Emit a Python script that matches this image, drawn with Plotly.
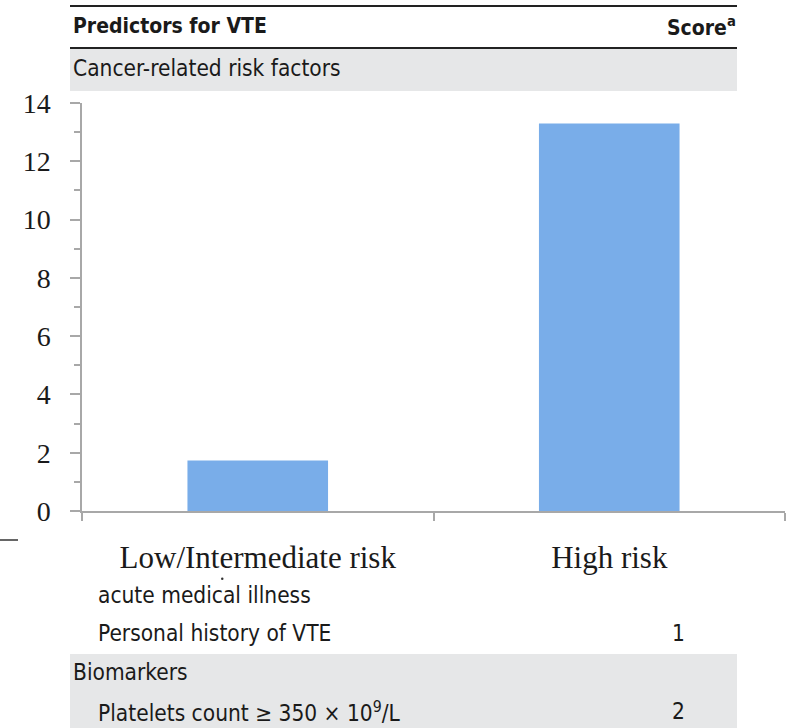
import plotly.graph_objects as go

W, H = 788, 728

categories = ["Low/Intermediate risk", "High risk"]
values = [1.73, 13.3]
y_ticks = [0, 2, 4, 6, 8, 10, 12, 14]

header_left = "Predictors for VTE"
header_right = "Score<sup>a</sup>"
# (label, score, left x, centre y)
table_rows = [
    ("Cancer-related risk factors", "", 71, 68),
    ("acute medical illness", "", 96, 595),
    ("Personal history of VTE", "1", 96, 633),
    ("Biomarkers", "", 71, 672),
    ("Platelets count \u2265 350 \u00d7 10<sup>9</sup>/L", "2", 96, 711),
]


def px(x):
    return x / W


def py(y):
    return 1 - y / H


fig = go.Figure()
fig.add_trace(go.Bar(
    x=categories, y=values,
    marker=dict(color="#79ade9", line=dict(width=0)),
    hoverinfo="x+y",
))

shapes = []
# grey bands
shapes.append(dict(type="rect", xref="paper", yref="paper", x0=px(70), x1=px(737),
                   y0=py(91), y1=py(48), fillcolor="#e6e7e8", line=dict(width=0), layer="below"))
shapes.append(dict(type="rect", xref="paper", yref="paper", x0=px(70), x1=px(737),
                   y0=py(728), y1=py(654), fillcolor="#e6e7e8", line=dict(width=0), layer="below"))
# rules
shapes.append(dict(type="line", xref="paper", yref="paper", x0=px(70), x1=px(737),
                   y0=py(6), y1=py(6), line=dict(color="#222222", width=2)))
shapes.append(dict(type="line", xref="paper", yref="paper", x0=px(70), x1=px(737),
                   y0=py(48), y1=py(48), line=dict(color="#222222", width=2)))
# stray dash at left and stray dot
shapes.append(dict(type="line", xref="paper", yref="paper", x0=px(0), x1=px(18),
                   y0=py(540), y1=py(540), line=dict(color="#333333", width=1.5)))
shapes.append(dict(type="circle", xref="paper", yref="paper", x0=px(221), x1=px(223.5),
                   y0=py(580), y1=py(577.5), fillcolor="#333333", line=dict(width=0)))

annotations = []
font_tbl = "Liberation Sans Narrow, DejaVu Sans Condensed, sans-serif"
TS = 22.5
TSB = 21
annotations.append(dict(text="<b>" + header_left + "</b>", x=px(71), y=py(26), xref="paper", yref="paper",
                        xanchor="left", yanchor="middle", showarrow=False,
                        font=dict(family=font_tbl, size=TSB, color="#1a1a1a")))
annotations.append(dict(text="<b>" + header_right + "</b>", x=px(738), y=py(26), xref="paper", yref="paper",
                        xanchor="right", yanchor="middle", showarrow=False,
                        font=dict(family=font_tbl, size=TSB, color="#1a1a1a")))
for label, score, xl, yc in table_rows:
    annotations.append(dict(text=label, x=px(xl), y=py(yc), xref="paper", yref="paper",
                            xanchor="left", yanchor="middle", showarrow=False,
                            font=dict(family=font_tbl, size=TS, color="#1a1a1a")))
    if score:
        annotations.append(dict(text=score, x=px(678), y=py(yc), xref="paper", yref="paper",
                                xanchor="center", yanchor="middle", showarrow=False,
                                font=dict(family=font_tbl, size=TS, color="#1a1a1a")))

fig.update_layout(
    width=W, height=H,
    margin=dict(l=0, r=0, t=0, b=0, pad=0, autoexpand=False),
    paper_bgcolor="white", plot_bgcolor="white",
    showlegend=False,
    bargap=0.6,
    shapes=shapes,
    annotations=annotations,
    xaxis=dict(
        domain=[px(82), px(785)],
        type="category",
        automargin=False,
        showline=True, linecolor="#a8a8a8", linewidth=1.5,
        ticks="outside", tickson="boundaries", ticklen=8, tickcolor="#a8a8a8", tickwidth=1.5,
        tickfont=dict(family="Liberation Serif, Times New Roman, serif", size=31, color="#1a1a1a"),
        ticklabelstandoff=18,
        showgrid=False, zeroline=False,
    ),
    yaxis=dict(
        domain=[py(511), py(103)],
        range=[0, 14],
        tickvals=y_ticks,
        automargin=False,
        showline=True, linecolor="#a8a8a8", linewidth=1.5,
        ticks="outside", ticklen=10, tickcolor="#a8a8a8", tickwidth=1.5,
        minor=dict(dtick=1, ticks="outside", ticklen=6, tickcolor="#a8a8a8", tickwidth=1.5),
        tickfont=dict(family="Liberation Serif, Times New Roman, serif", size=28, color="#1a1a1a"),
        ticklabelstandoff=14,
        showgrid=False, zeroline=False,
    ),
)

fig.write_html(
    "out.html",
    config={"displayModeBar": False},
    post_script="document.body.style.margin='0';document.documentElement.style.overflow='hidden';",
)
